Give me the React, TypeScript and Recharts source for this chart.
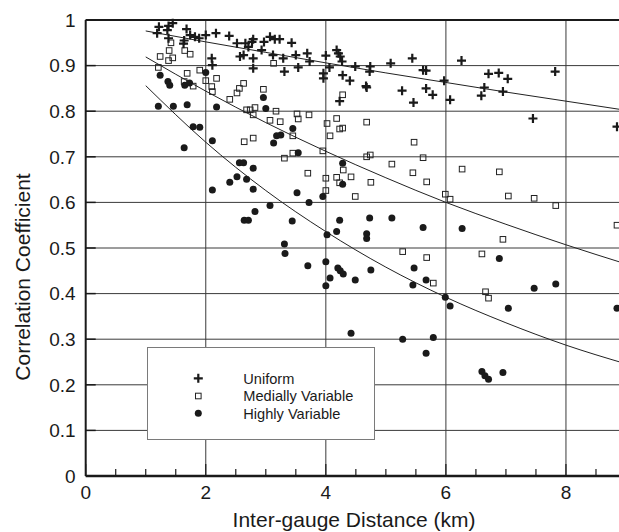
import React from 'react';
import { ScatterChart, Scatter, XAxis, YAxis, CartesianGrid, ReferenceLine, Legend } from 'recharts';

type Pt = [number, number];

const uniformPts: Pt[] = [
  [1.22, 0.985], [1.38, 0.987], [1.45, 0.993], [1.36, 0.978], [1.19, 0.971], [1.68, 0.98], [1.74, 0.967],
  [1.82, 0.963], [1.89, 0.96], [2.0, 0.967], [2.17, 0.971], [2.39, 0.965], [1.38, 0.96], [1.64, 0.955],
  [1.63, 0.948], [2.52, 0.949], [2.66, 0.949], [2.71, 0.941], [2.77, 0.952], [2.79, 0.958], [2.63, 0.923],
  [2.57, 0.92], [2.79, 0.916], [2.97, 0.952], [3.07, 0.963], [3.15, 0.958], [3.23, 0.958], [2.93, 0.934],
  [3.12, 0.923], [2.1, 0.916], [2.11, 0.901], [2.79, 0.894], [3.43, 0.95], [3.29, 0.916], [3.5, 0.923],
  [3.69, 0.927], [3.73, 0.909], [3.31, 0.887], [3.54, 0.896], [4.0, 0.922], [3.96, 0.883], [3.96, 0.872],
  [4.06, 0.896], [4.18, 0.934], [4.21, 0.927], [4.24, 0.92], [4.27, 0.909], [4.28, 0.879], [4.4, 0.867],
  [4.49, 0.898], [4.74, 0.898], [4.73, 0.887], [4.67, 0.855], [4.68, 0.852], [4.23, 0.822], [5.08, 0.905],
  [5.44, 0.916], [5.62, 0.89], [5.67, 0.889], [5.97, 0.867], [5.27, 0.845], [5.46, 0.819], [5.67, 0.85],
  [5.78, 0.836], [6.07, 0.825], [6.26, 0.911], [6.71, 0.882], [6.88, 0.884], [7.03, 0.871], [6.64, 0.852],
  [6.59, 0.834], [6.95, 0.843], [7.82, 0.887], [7.45, 0.784], [8.85, 0.766],
];

const mediallyPts: Pt[] = [
  [1.42, 0.95], [1.39, 0.933], [1.24, 0.92], [1.38, 0.911], [1.45, 0.917], [1.65, 0.933], [1.74, 0.925],
  [1.21, 0.896], [1.69, 0.883], [1.9, 0.89], [2.0, 0.867], [2.18, 0.872], [1.64, 0.865], [1.79, 0.855],
  [2.1, 0.854], [2.11, 0.843], [2.4, 0.826], [2.52, 0.84], [2.56, 0.85], [2.63, 0.861], [2.96, 0.848],
  [2.68, 0.803], [2.74, 0.803], [2.79, 0.792], [2.82, 0.808], [3.17, 0.8], [3.07, 0.78], [3.24, 0.777],
  [2.64, 0.733], [2.79, 0.741], [3.13, 0.905], [4.28, 0.836], [3.52, 0.794], [3.54, 0.783], [3.72, 0.792],
  [3.45, 0.746], [4.02, 0.773], [4.18, 0.784], [4.23, 0.761], [4.28, 0.763], [4.07, 0.746], [4.68, 0.776],
  [5.47, 0.732], [3.45, 0.708], [3.31, 0.697], [3.95, 0.713], [4.68, 0.7], [4.74, 0.704], [5.62, 0.698],
  [5.1, 0.684], [3.7, 0.664], [4.29, 0.671], [5.45, 0.665], [6.27, 0.673], [4.0, 0.653], [4.18, 0.655],
  [4.42, 0.656], [4.23, 0.643], [4.0, 0.626], [4.75, 0.644], [4.49, 0.613], [5.68, 0.645], [5.99, 0.618],
  [6.07, 0.607], [5.28, 0.492], [5.68, 0.479], [5.79, 0.423], [6.89, 0.667], [7.04, 0.614], [7.47, 0.609],
  [7.83, 0.593], [8.85, 0.55], [6.95, 0.519], [6.6, 0.487], [6.66, 0.404], [6.71, 0.39],
];

const highlyPts: Pt[] = [
  [2.0, 0.885], [1.24, 0.879], [1.37, 0.865], [1.4, 0.857], [1.65, 0.857], [1.73, 0.862], [1.21, 0.811],
  [1.46, 0.811], [1.69, 0.814], [2.18, 0.809], [2.96, 0.83], [3.0, 0.806], [1.79, 0.766], [1.9, 0.765],
  [3.18, 0.746], [3.13, 0.73], [2.11, 0.735], [1.64, 0.72], [2.56, 0.687], [2.63, 0.687], [2.79, 0.675],
  [2.52, 0.656], [2.68, 0.651], [3.45, 0.762], [3.25, 0.748], [3.54, 0.709], [4.28, 0.686], [2.4, 0.644],
  [2.79, 0.629], [2.11, 0.627], [3.07, 0.593], [2.82, 0.58], [2.64, 0.561], [2.71, 0.561], [4.28, 0.64],
  [3.52, 0.621], [3.95, 0.613], [3.72, 0.6], [3.44, 0.559], [4.23, 0.561], [4.73, 0.566], [5.1, 0.566],
  [5.62, 0.545], [6.27, 0.543], [4.18, 0.536], [4.02, 0.529], [4.68, 0.531], [4.68, 0.521], [3.31, 0.509],
  [3.32, 0.488], [4.0, 0.47], [3.7, 0.461], [4.2, 0.456], [4.24, 0.45], [4.29, 0.443], [4.75, 0.452],
  [5.47, 0.456], [4.07, 0.434], [4.49, 0.43], [5.67, 0.43], [4.0, 0.417], [5.45, 0.419], [5.99, 0.392],
  [6.07, 0.373], [4.42, 0.313], [5.28, 0.3], [5.79, 0.304], [6.89, 0.477], [7.47, 0.412], [7.83, 0.421],
  [7.04, 0.368], [8.85, 0.368], [5.67, 0.269], [6.6, 0.229], [6.65, 0.22], [6.71, 0.212], [6.95, 0.227],
];

const fitX = [1, 2, 3, 4, 5, 6, 7, 8, 9];
const uniformFit = [0.976, 0.952, 0.929, 0.906, 0.884, 0.863, 0.842, 0.822, 0.802];
const mediallyFit = [0.919, 0.844, 0.775, 0.712, 0.654, 0.6, 0.552, 0.507, 0.465];
const highlyFit = [0.856, 0.732, 0.626, 0.536, 0.458, 0.392, 0.336, 0.287, 0.246];

const xTicks = [0, 0.5, 1, 1.5, 2, 2.5, 3, 3.5, 4, 4.5, 5, 5.5, 6, 6.5, 7, 7.5, 8, 8.5, 9];
const xLabelled = [0, 2, 4, 6, 8];
const yTicks = [0, 0.1, 0.2, 0.3, 0.4, 0.5, 0.6, 0.7, 0.8, 0.9, 1];
const yLabels = ['0', '0.1', '0.2', '0.3', '0.4', '0.5', '0.6', '0.7', '0.8', '0.9', '1'];
const gridX = [2, 4, 6, 8];
const gridY = [0.1, 0.2, 0.3, 0.4, 0.5, 0.6, 0.7, 0.8, 0.9];
const seriesNames = ['Uniform', 'Medially Variable', 'Highly Variable'];

const toObjs = (pts: Pt[]) => pts.map(([x, y]) => ({ x, y }));
const fitObjs = (ys: number[]) => fitX.map((x, i) => ({ x, y: ys[i] }));

const FONT = '"Liberation Sans", Arial, Helvetica, sans-serif';
const INK = '#1a1a1a';

const PlusMark = (cx: number, cy: number) => (
  <path d={`M${cx - 4.5},${cy}h9M${cx},${cy - 4.5}v9`} stroke={INK} strokeWidth={2.2} fill="none" />
);
const SquareMark = (cx: number, cy: number) => (
  <rect x={cx - 2.8} y={cy - 2.8} width={5.6} height={5.6} fill="none" stroke="#222" strokeWidth={1} />
);
const DotMark = (cx: number, cy: number) => <circle cx={cx} cy={cy} r={3.5} fill={INK} />;

const XTick = (props: any) => {
  const { x, y, payload } = props;
  const v = payload.value as number;
  const labelled = xLabelled.indexOf(v) >= 0;
  return (
    <g>
      <line x1={x} x2={x} y1={y} y2={y - (labelled ? 12 : 7)} stroke={INK} strokeWidth={1.2} />
      {labelled && (
        <text x={x} y={y + 23} textAnchor="middle" fontSize={19} fontFamily={FONT} fill={INK}>
          {v}
        </text>
      )}
    </g>
  );
};

const YTick = (props: any) => {
  const { x, y, index } = props;
  return (
    <g>
      <line x1={x} x2={x + 10} y1={y} y2={y} stroke={INK} strokeWidth={1.5} />
      <text x={x - 10} y={y} dy="0.36em" textAnchor="end" fontSize={19} fontFamily={FONT} fill={INK}>
        {yLabels[index]}
      </text>
    </g>
  );
};

const LegendBox = () => {
  const marks = [PlusMark, SquareMark, DotMark];
  const markY = [32.3, 50, 67.3];
  const textY = [37.5, 55, 72.5];
  return (
    <div
      style={{
        width: 228,
        height: 93,
        border: '1.5px solid #7a7a7a',
        background: '#fff',
        boxSizing: 'border-box',
        position: 'relative',
      }}
    >
      <svg width={228} height={93} style={{ position: 'absolute', left: -1.5, top: -1.5, overflow: 'visible' }}>
        {seriesNames.map((name, i) => (
          <g key={name}>
            {marks[i](52.3, markY[i])}
            <text x={97.3} y={textY[i]} fontSize={14.6} fontFamily={FONT} fill={INK}>
              {name}
            </text>
          </g>
        ))}
      </svg>
    </div>
  );
};

export default function App() {
  return (
    <div style={{ position: 'absolute', left: 0, top: 0, width: 619, height: 532, overflow: 'hidden', background: '#fff' }}>
      <ScatterChart width={631} height={532} margin={{ top: 20, right: 5, bottom: 0, left: 0 }}>
        <CartesianGrid
          stroke="#3a3a3a"
          strokeWidth={1}
          verticalValues={gridX}
          horizontalValues={gridY}
        />
        <XAxis
          type="number"
          dataKey="x"
          domain={[0, 9]}
          ticks={xTicks}
          interval={0}
          height={56}
          tickLine={false}
          tickSize={0}
          tickMargin={0}
          tick={<XTick />}
          axisLine={{ stroke: INK, strokeWidth: 2.5 }}
          allowDataOverflow
          label={{
            content: () => (
              <text x={354} y={526.5} textAnchor="middle" fontSize={21} fontFamily={FONT} fill={INK}>
                Inter-gauge Distance (km)
              </text>
            ),
          }}
        />
        <YAxis
          type="number"
          dataKey="y"
          domain={[0, 1]}
          ticks={yTicks}
          interval={0}
          width={85.7}
          tickLine={false}
          tickSize={0}
          tickMargin={0}
          tick={<YTick />}
          axisLine={{ stroke: INK, strokeWidth: 2 }}
          label={{
            content: () => (
              <text
                x={22}
                y={277}
                transform="rotate(-90 22 277)"
                textAnchor="middle"
                dominantBaseline="central"
                fontSize={21}
                fontFamily={FONT}
                fill={INK}
              >
                Correlation Coefficient
              </text>
            ),
          }}
        />
        <ReferenceLine y={1} stroke={INK} strokeWidth={2} />
        <Scatter
          name="uniform-fit"
          data={fitObjs(uniformFit)}
          line={{ stroke: '#222', strokeWidth: 1 }}
          lineJointType="monotoneX"
          shape={() => <g />}
          legendType="none"
          isAnimationActive={false}
        />
        <Scatter
          name="medially-fit"
          data={fitObjs(mediallyFit)}
          line={{ stroke: '#222', strokeWidth: 1 }}
          lineJointType="monotoneX"
          shape={() => <g />}
          legendType="none"
          isAnimationActive={false}
        />
        <Scatter
          name="highly-fit"
          data={fitObjs(highlyFit)}
          line={{ stroke: '#222', strokeWidth: 1 }}
          lineJointType="monotoneX"
          shape={() => <g />}
          legendType="none"
          isAnimationActive={false}
        />
        <Scatter
          name={seriesNames[1]}
          data={toObjs(mediallyPts)}
          shape={(p: any) => SquareMark(p.cx, p.cy)}
          isAnimationActive={false}
        />
        <Scatter
          name={seriesNames[2]}
          data={toObjs(highlyPts)}
          shape={(p: any) => DotMark(p.cx, p.cy)}
          isAnimationActive={false}
        />
        <Scatter
          name={seriesNames[0]}
          data={toObjs(uniformPts)}
          shape={(p: any) => PlusMark(p.cx, p.cy)}
          isAnimationActive={false}
        />
        <Legend
          layout="vertical"
          align="center"
          verticalAlign="middle"
          content={<LegendBox />}
          wrapperStyle={{ left: 146.7, top: 346.7, width: 228, height: 93 }}
        />
      </ScatterChart>
    </div>
  );
}
